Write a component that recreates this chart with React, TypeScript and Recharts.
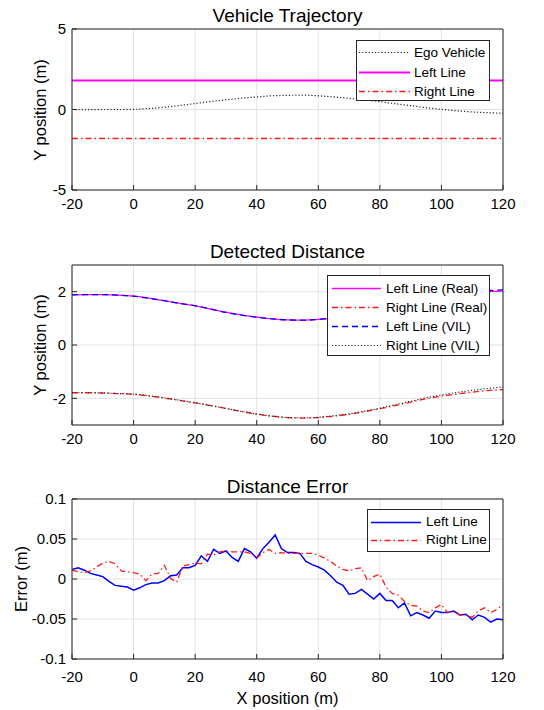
import React from "react";
import { LineChart, Line, XAxis, YAxis, CartesianGrid, Legend } from "recharts";

const FONT = '"Liberation Sans", Arial, Helvetica, sans-serif';
const INK = "#262626";

const xTicks = [-20, 0, 20, 40, 60, 80, 100, 120];

// Vehicle Trajectory
const trajX = [-20, -15, -10, -5, 0, 5, 10, 15, 20, 25, 30, 35, 40, 45, 50, 55, 60, 65, 70, 75, 80, 85, 90, 95, 100, 105, 110, 115, 120];
const egoY = [0.0, -0.01, 0.0, 0.0, 0.01, 0.06, 0.14, 0.25, 0.37, 0.49, 0.6, 0.7, 0.78, 0.85, 0.88, 0.89, 0.85, 0.78, 0.69, 0.6, 0.49, 0.36, 0.24, 0.11, 0.01, -0.08, -0.15, -0.2, -0.23];
const laneX = [-20, 120];
const leftLaneY = [1.8, 1.8];
const rightLaneY = [-1.8, -1.8];

// Detected Distance (same x samples as trajectory)
const leftReal = [1.88, 1.89, 1.89, 1.87, 1.83, 1.76, 1.66, 1.56, 1.47, 1.35, 1.23, 1.13, 1.05, 0.98, 0.94, 0.93, 0.96, 1.02, 1.11, 1.22, 1.34, 1.47, 1.6, 1.72, 1.83, 1.91, 1.97, 2.0, 2.02];
const rightReal = [-1.79, -1.79, -1.8, -1.82, -1.85, -1.91, -1.99, -2.08, -2.17, -2.27, -2.38, -2.49, -2.59, -2.67, -2.72, -2.74, -2.72, -2.67, -2.6, -2.5, -2.39, -2.27, -2.14, -2.02, -1.92, -1.84, -1.77, -1.71, -1.67];
const leftVil = [1.88, 1.89, 1.89, 1.87, 1.83, 1.75, 1.66, 1.56, 1.47, 1.35, 1.22, 1.12, 1.04, 0.98, 0.94, 0.93, 0.96, 1.03, 1.12, 1.23, 1.35, 1.48, 1.61, 1.74, 1.85, 1.94, 2.0, 2.04, 2.07];
const rightVil = [-1.79, -1.79, -1.8, -1.82, -1.84, -1.9, -1.98, -2.07, -2.17, -2.27, -2.38, -2.49, -2.59, -2.67, -2.72, -2.73, -2.71, -2.65, -2.58, -2.48, -2.37, -2.24, -2.11, -1.98, -1.87, -1.78, -1.7, -1.63, -1.58];

// Distance Error
const errX = [
  -20, -18, -16, -14, -12, -10, -8, -6, -4, -2,
  0, 2, 4, 6, 8, 10, 12, 14, 16, 18,
  20, 22, 24, 26, 28, 30, 32, 34, 36, 38,
  40, 42, 44, 46, 48, 50, 52, 54, 56, 58,
  60, 62, 64, 66, 68, 70, 72, 74, 76, 78,
  80, 82, 84, 86, 88, 90, 92, 94, 96, 98,
  100, 102, 104, 106, 108, 110, 112, 114, 116, 118, 120,
];
const errLeft = [
  0.012, 0.014, 0.011, 0.007, 0.005, 0.003, -0.003, -0.008, -0.009, -0.01,
  -0.014, -0.011, -0.007, -0.005, -0.005, -0.002, 0.004, 0.005, 0.014, 0.014,
  0.017, 0.029, 0.022, 0.037, 0.032, 0.035, 0.027, 0.022, 0.038, 0.034,
  0.026, 0.038, 0.046, 0.055, 0.038, 0.033, 0.033, 0.032, 0.022, 0.018,
  0.015, 0.011, 0.004, -0.004, -0.008, -0.019, -0.018, -0.013, -0.019, -0.025,
  -0.018, -0.027, -0.027, -0.036, -0.03, -0.046, -0.042, -0.045, -0.049, -0.04,
  -0.042, -0.042, -0.04, -0.045, -0.044, -0.051, -0.045, -0.048, -0.054, -0.05, -0.051,
];
const errRight = [
  0.011, 0.009, 0.008, 0.01, 0.015, 0.02, 0.022, 0.019, 0.01, 0.009,
  0.008, 0.006, -0.002, 0.006, 0.007, 0.017, 0.001, -0.004, 0.016, 0.018,
  0.02, 0.019, 0.031, 0.03, 0.034, 0.035, 0.034, 0.034, 0.034, 0.032,
  0.026, 0.033, 0.037, 0.032, 0.033, 0.032, 0.032, 0.032, 0.032, 0.032,
  0.03, 0.026, 0.022, 0.016, 0.012, 0.01, 0.013, 0.014, -0.002, 0.003,
  0.006, -0.01, -0.018, -0.02, -0.028, -0.033, -0.034, -0.04, -0.042, -0.036,
  -0.032, -0.042, -0.041, -0.045, -0.045, -0.048, -0.04, -0.036, -0.042, -0.038, -0.032,
];

const trajData = trajX.map((x, i) => ({ x, ego: egoY[i] }));
const laneData = laneX.map((x, i) => ({ x, left: leftLaneY[i], right: rightLaneY[i] }));
const distData = trajX.map((x, i) => ({
  x,
  leftReal: leftReal[i],
  rightReal: rightReal[i],
  leftVil: leftVil[i],
  rightVil: rightVil[i],
}));
const errData = errX.map((x, i) => ({ x, left: errLeft[i], right: errRight[i] }));

const RED = "#ff1a1a";
const DASHDOT = "6 3 1.5 3";
const DOTTED = "1.2 2";
const DASHED = "6 4";

type LegendItem = { name: string; color: string; dash?: string; width: number };
type Box = { left: number; top: number; width: number; height: number; padTop: number; row: number; lineFrom: number; lineTo: number; textAt: number };

const PLOT_LEFT = 72;
const PLOT_RIGHT = 503;
const CHART_W = 544;

function LegendBox({ items, box }: { items: LegendItem[]; box: Box }) {
  return (
    <div
      style={{
        width: box.width,
        height: box.height,
        boxSizing: "border-box",
        border: `1px solid ${INK}`,
        background: "#fff",
        paddingTop: box.padTop,
        fontFamily: FONT,
        fontSize: 13.5,
        color: "#000",
        textAlign: "left",
      }}
    >
      {items.map((it) => (
        <div key={it.name} style={{ position: "relative", height: box.row }}>
          <svg width={box.lineTo + 2} height={box.row} style={{ position: "absolute", left: 0, top: 0 }}>
            <line
              x1={box.lineFrom}
              x2={box.lineTo}
              y1={Math.floor(box.row / 2) + 0.5}
              y2={Math.floor(box.row / 2) + 0.5}
              stroke={it.color}
              strokeWidth={it.width}
              strokeDasharray={it.dash}
            />
          </svg>
          <span
            style={{
              position: "absolute",
              left: box.textAt,
              top: 0,
              lineHeight: `${box.row}px`,
              whiteSpace: "nowrap",
            }}
          >
            {it.name}
          </span>
        </div>
      ))}
    </div>
  );
}

function Panel({
  top,
  height,
  plotTop,
  plotBottom,
  yDomain,
  yTicks,
  xTickGap,
  legend,
  box,
  children,
}: {
  top: number;
  height: number;
  plotTop: number;
  plotBottom: number;
  yDomain: [number, number];
  yTicks: number[];
  xTickGap: number;
  legend: LegendItem[];
  box: Box;
  children: React.ReactNode;
}) {
  const tickStyle = { fill: "#000", fontSize: 15, fontFamily: FONT };
  return (
    <div style={{ position: "absolute", left: 0, top }}>
      <LineChart
        width={CHART_W}
        height={height}
        margin={{ top: plotTop - top, right: CHART_W - PLOT_RIGHT, left: 0, bottom: 0 }}
      >
        <CartesianGrid stroke="#e2e2e2" strokeWidth={1} />
        <XAxis
          dataKey="x"
          type="number"
          domain={[-20, 120]}
          ticks={xTicks}
          interval={0}
          allowDataOverflow
          height={height - (plotBottom - top)}
          tickSize={-5}
          tickMargin={5 + xTickGap}
          stroke={INK}
          tick={tickStyle}
        />
        <XAxis
          xAxisId="top"
          orientation="top"
          dataKey="x"
          type="number"
          domain={[-20, 120]}
          ticks={xTicks}
          interval={0}
          allowDataOverflow
          mirror
          tick={false}
          tickSize={5}
          stroke={INK}
        />
        <YAxis
          type="number"
          domain={yDomain}
          ticks={yTicks}
          interval={0}
          allowDataOverflow
          width={PLOT_LEFT}
          tickSize={-5}
          tickMargin={11}
          stroke={INK}
          tick={tickStyle}
        />
        <YAxis
          yAxisId="right"
          orientation="right"
          type="number"
          domain={yDomain}
          ticks={yTicks}
          interval={0}
          allowDataOverflow
          mirror
          tick={false}
          tickSize={5}
          stroke={INK}
        />
        {children}
        <Legend
          layout="vertical"
          align="center"
          verticalAlign="middle"
          content={() => <LegendBox items={legend} box={box} />}
          wrapperStyle={{ left: box.left, top: box.top - top, width: box.width, height: box.height }}
        />
      </LineChart>
    </div>
  );
}

function Label({ x, y, size, rotate, children }: { x: number; y: number; size: number; rotate?: boolean; children: React.ReactNode }) {
  return (
    <div
      style={{
        position: "absolute",
        left: x,
        top: y,
        transform: `translate(-50%, -50%)${rotate ? " rotate(-90deg)" : ""}`,
        fontFamily: FONT,
        fontSize: size,
        lineHeight: 1,
        whiteSpace: "nowrap",
        color: "#000",
      }}
    >
      {children}
    </div>
  );
}

const trajLegend: LegendItem[] = [
  { name: "Ego Vehicle", color: "#222", dash: DOTTED, width: 1.2 },
  { name: "Left Line", color: "#ff00ff", width: 2 },
  { name: "Right Line", color: RED, dash: DASHDOT, width: 1.5 },
];
const distLegend: LegendItem[] = [
  { name: "Left Line (Real)", color: "#ff00ff", width: 1.5 },
  { name: "Right Line (Real)", color: RED, dash: DASHDOT, width: 1.5 },
  { name: "Left Line (VIL)", color: "#0000ff", dash: DASHED, width: 1.5 },
  { name: "Right Line (VIL)", color: "#222", dash: DOTTED, width: 1.2 },
];
const errLegend: LegendItem[] = [
  { name: "Left Line", color: "#0000ff", width: 1.5 },
  { name: "Right Line", color: RED, dash: DASHDOT, width: 1.5 },
];

export default function App() {
  const midX = (PLOT_LEFT + PLOT_RIGHT) / 2;
  return (
    <div style={{ position: "absolute", left: 0, top: 0, width: 544, height: 710, background: "#fff", overflow: "hidden" }}>
      <Panel
        top={0}
        height={212}
        plotTop={29}
        plotBottom={190}
        yDomain={[-5, 5]}
        yTicks={[-5, 0, 5]}
        xTickGap={8}
        legend={trajLegend}
        box={{ left: 356, top: 40, width: 134, height: 61, padTop: 2, row: 19.5, lineFrom: 2, lineTo: 53, textAt: 57 }}
      >
        <Line data={trajData} dataKey="ego" type="monotone" stroke="#222" strokeWidth={1.2} strokeDasharray={DOTTED} dot={false} isAnimationActive={false} />
        <Line data={laneData} dataKey="left" type="linear" stroke="#ff00ff" strokeWidth={2} dot={false} isAnimationActive={false} />
        <Line data={laneData} dataKey="right" type="linear" stroke={RED} strokeWidth={1.3} strokeDasharray={DASHDOT} dot={false} isAnimationActive={false} />
      </Panel>
      <Panel
        top={225}
        height={225}
        plotTop={265}
        plotBottom={425}
        yDomain={[-3, 3]}
        yTicks={[-2, 0, 2]}
        xTickGap={8}
        legend={distLegend}
        box={{ left: 327, top: 275, width: 163, height: 81, padTop: 3, row: 19, lineFrom: 4, lineTo: 53, textAt: 58 }}
      >
        <Line data={distData} dataKey="leftReal" type="monotone" stroke="#ff00ff" strokeWidth={1.3} dot={false} isAnimationActive={false} />
        <Line data={distData} dataKey="rightReal" type="monotone" stroke={RED} strokeWidth={1.3} strokeDasharray={DASHDOT} dot={false} isAnimationActive={false} />
        <Line data={distData} dataKey="leftVil" type="monotone" stroke="#0000ff" strokeWidth={1.3} strokeDasharray={DASHED} dot={false} isAnimationActive={false} />
        <Line data={distData} dataKey="rightVil" type="monotone" stroke="#222" strokeWidth={1.1} strokeDasharray={DOTTED} dot={false} isAnimationActive={false} />
      </Panel>
      <Panel
        top={460}
        height={230}
        plotTop={499}
        plotBottom={659}
        yDomain={[-0.1, 0.1]}
        yTicks={[-0.1, -0.05, 0, 0.05, 0.1]}
        xTickGap={12}
        legend={errLegend}
        box={{ left: 367, top: 509, width: 123, height: 43, padTop: 3, row: 18.4, lineFrom: 3, lineTo: 53, textAt: 58 }}
      >
        <Line data={errData} dataKey="left" type="linear" stroke="#0000ff" strokeWidth={1.5} dot={false} isAnimationActive={false} />
        <Line data={errData} dataKey="right" type="linear" stroke={RED} strokeWidth={1.3} strokeDasharray={DASHDOT} dot={false} isAnimationActive={false} />
      </Panel>

      <Label x={midX} y={14.5} size={19}>Vehicle Trajectory</Label>
      <Label x={midX} y={250.5} size={19}>Detected Distance</Label>
      <Label x={midX} y={485.5} size={19}>Distance Error</Label>
      <Label x={40} y={109.5} size={16.5} rotate>Y position (m)</Label>
      <Label x={40} y={345} size={16.5} rotate>Y position (m)</Label>
      <Label x={21} y={579} size={16.5} rotate>Error (m)</Label>
      <Label x={midX} y={698} size={16.5}>X position (m)</Label>
    </div>
  );
}
